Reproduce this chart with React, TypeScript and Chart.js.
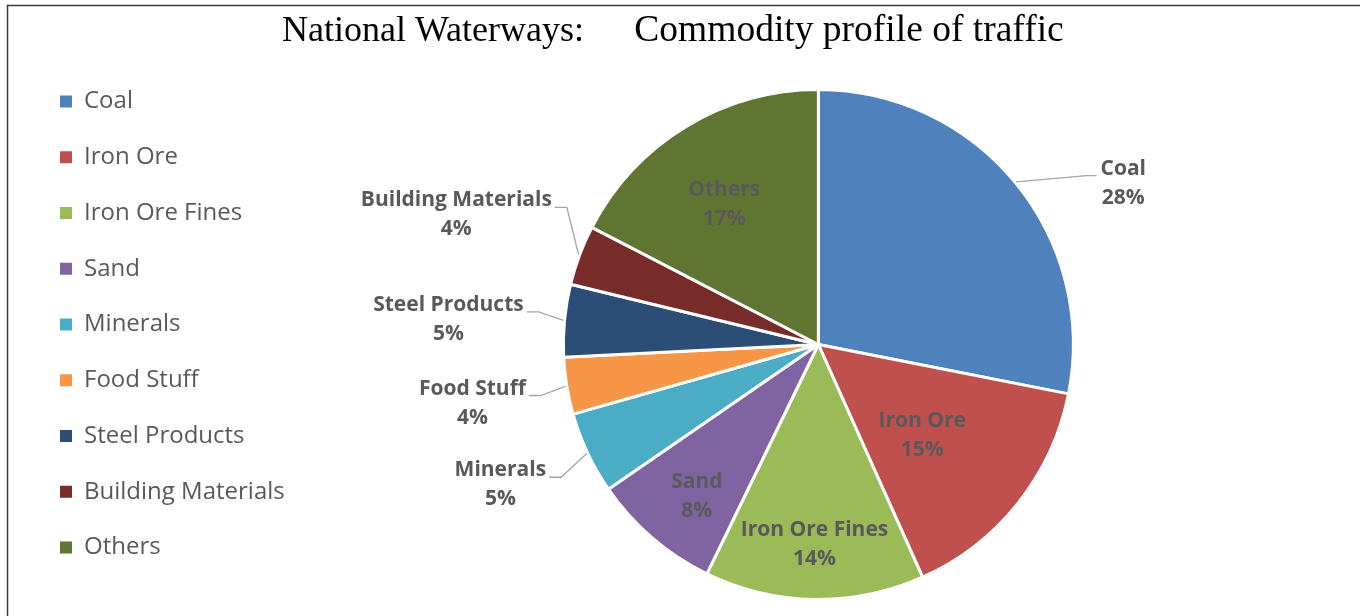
import React, { useEffect, useRef } from "react";
import { Chart, registerables } from "chart.js";

Chart.register(...registerables);

const categories = [
  "Coal",
  "Iron Ore",
  "Iron Ore Fines",
  "Sand",
  "Minerals",
  "Food Stuff",
  "Steel Products",
  "Building Materials",
  "Others",
];
const shares = [28.1, 15.2, 13.9, 8.2, 5.2, 3.6, 4.6, 3.8, 17.4];
const colors = [
  "#4f81bd",
  "#c0504d",
  "#9bbb59",
  "#8064a2",
  "#4bacc6",
  "#f79646",
  "#2c4d75",
  "#772c2a",
  "#617532",
];
const titleParts = ["National Waterways:", "Commodity profile of traffic"];

// label placement: compass angle (deg, clockwise from 12 o'clock) and radius fraction;
// outside labels get a leader line back to the slice
const labelPlacement = [
  { outside: true, angle: 62.1, k: 1.353 },
  { outside: false, angle: 131.1, k: 0.54 },
  { outside: false, angle: 181.1, k: 0.785 },
  { outside: false, angle: 218.6, k: 0.764 },
  { outside: true, angle: 246.2, k: 1.363 },
  { outside: true, angle: 260.4, k: 1.376 },
  { outside: true, angle: 273.9, k: 1.454 },
  { outside: true, angle: 289.7, k: 1.508 },
  { outside: false, angle: 326.0, k: 0.66 },
];

const CANVAS_W = 1360;
const CANVAS_H = 640;
const VIEW_H = 616;

const framePlugin = {
  id: "frame",
  beforeDraw(chart: any) {
    const ctx = chart.ctx;
    ctx.save();
    ctx.fillStyle = "#ffffff";
    ctx.fillRect(0, 0, chart.width, chart.height);
    ctx.strokeStyle = "#3a3a3a";
    ctx.lineWidth = 1.5;
    ctx.beginPath();
    ctx.moveTo(7.5, chart.height);
    ctx.lineTo(7.5, 5.5);
    ctx.lineTo(chart.width, 5.5);
    ctx.stroke();
    ctx.restore();
  },
};

const titlePlugin = {
  id: "twoPartTitle",
  afterDraw(chart: any) {
    const ctx = chart.ctx;
    ctx.save();
    ctx.fillStyle = "#000000";
    ctx.textAlign = "center";
    ctx.textBaseline = "alphabetic";
    ctx.font = '36px "Liberation Serif", "Times New Roman", serif';
    ctx.fillText(titleParts[0], 433, 41);
    ctx.font = '37.5px "Liberation Serif", "Times New Roman", serif';
    ctx.fillText(titleParts[1], 849, 41);
    ctx.restore();
  },
};

const labelPlugin = {
  id: "sliceLabels",
  afterDatasetsDraw(chart: any) {
    const ctx = chart.ctx;
    const meta = chart.getDatasetMeta(0);
    const total = shares.reduce((a, b) => a + b, 0);
    const lineGap = 29;
    ctx.save();
    ctx.font = 'bold 21px "Open Sans", sans-serif';
    ctx.fillStyle = "#595959";
    ctx.textAlign = "center";
    ctx.textBaseline = "middle";
    meta.data.forEach((arc: any, i: number) => {
      const { x, y, startAngle, endAngle, outerRadius } = arc.getProps(
        ["x", "y", "startAngle", "endAngle", "outerRadius"],
        true
      );
      const p = labelPlacement[i];
      const mid = (startAngle + endAngle) / 2;
      const a = (p.angle * Math.PI) / 180;
      const lx = x + Math.sin(a) * outerRadius * p.k;
      const ly = y - Math.cos(a) * outerRadius * p.k;
      const pct = Math.round((shares[i] / total) * 100) + "%";
      ctx.fillStyle = "#595959";
      ctx.fillText(categories[i], lx, ly - lineGap / 2);
      ctx.fillText(pct, lx, ly + lineGap / 2);
      if (p.outside) {
        const w = ctx.measureText(categories[i]).width;
        const segY = ly - lineGap / 2 + 7;
        const ex = x + Math.cos(mid) * (outerRadius + 1);
        const ey = y + Math.sin(mid) * (outerRadius + 1);
        const left = lx < x;
        const tx = left ? lx + w / 2 + 3 : lx - w / 2 - 4;
        const elbow = left ? tx + 12 : tx - 10;
        ctx.strokeStyle = "#a6a6a6";
        ctx.lineWidth = 1.3;
        ctx.beginPath();
        ctx.moveTo(tx, segY);
        ctx.lineTo(elbow, segY);
        ctx.lineTo(ex, ey);
        ctx.stroke();
      }
    });
    ctx.restore();
  },
};

export default function App() {
  const ref = useRef<HTMLCanvasElement>(null);
  useEffect(() => {
    const canvas = ref.current!;
    const chart = new Chart(canvas, {
      type: "pie",
      data: {
        labels: categories,
        datasets: [
          {
            data: shares,
            backgroundColor: colors,
            borderColor: "#ffffff",
            borderWidth: 3,
            hoverOffset: 0,
            radius: 255,
            clip: false,
          } as any,
        ],
      },
      options: {
        responsive: false,
        animation: false,
        events: [],
        layout: { padding: { top: 57.75, bottom: 8.75, left: 28.25, right: 18 } },
        plugins: {
          title: { display: false },
          tooltip: { enabled: false },
          legend: {
            position: "left",
            align: "start",
            labels: {
              boxWidth: 12,
              boxHeight: 12,
              padding: 31.75,
              color: "#595959",
              font: { family: '"Open Sans", sans-serif', size: 24 },
              generateLabels: (c: any) =>
                c.data.labels.map((l: string, i: number) => ({
                  text: l,
                  fillStyle: colors[i],
                  strokeStyle: colors[i],
                  lineWidth: 0,
                  hidden: false,
                  index: i,
                  fontColor: "#595959",
                })),
            },
          },
        },
      } as any,
      plugins: [framePlugin, titlePlugin, labelPlugin],
    });
    return () => chart.destroy();
  }, []);
  return (
    <div
      style={{
        position: "fixed",
        left: 0,
        top: 0,
        width: CANVAS_W,
        height: VIEW_H,
        background: "#ffffff",
        overflow: "hidden",
      }}
    >
      <canvas ref={ref} width={CANVAS_W} height={CANVAS_H} style={{ display: "block" }} />
    </div>
  );
}
